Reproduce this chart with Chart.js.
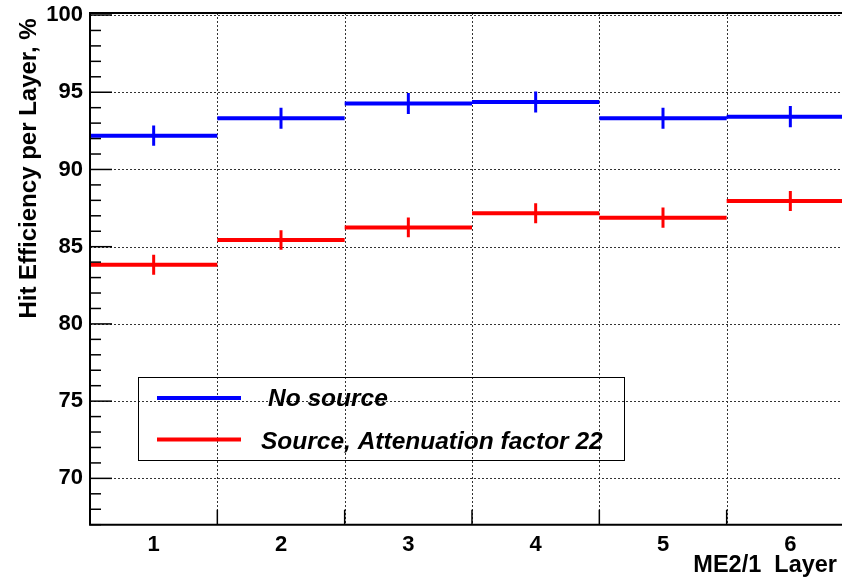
<!DOCTYPE html>
<html>
<head>
<meta charset="utf-8">
<script src="https://cdn.jsdelivr.net/npm/chart.js@4.4.1/dist/chart.umd.min.js"></script>
<style>
  html, body { margin: 0; padding: 0; background: #fff; overflow: hidden; width: 842px; height: 577px; }
  canvas { display: block; }
</style>
</head>
<body>
<canvas id="c" width="854" height="577"></canvas>
<script>
// ---- data ----
const layers = [1, 2, 3, 4, 5, 6];
const noSource = [92.19, 93.32, 94.27, 94.37, 93.32, 93.42];
const noSourceErr = [0.66, 0.68, 0.68, 0.68, 0.68, 0.69];
const withSource = [83.83, 85.43, 86.25, 87.16, 86.88, 87.96];
const withSourceErr = [0.64, 0.63, 0.64, 0.65, 0.65, 0.65];
const yTickValues = [70, 75, 80, 85, 90, 95, 100];
const seriesNames = ['No source', 'Source, Attenuation factor 22'];
const xTitle = 'ME2/1  Layer';
const yTitle = 'Hit Efficiency per Layer, %';

const FONT = "'Liberation Sans', Arial, Helvetica, sans-serif";
const BLUE = '#0000ff';
const RED = '#ff0000';

function hSegments(vals) {
  const out = [];
  layers.forEach((l, i) => {
    out.push({ x: l - 0.5, y: vals[i] }, { x: l + 0.5, y: vals[i] }, { x: l + 0.5, y: null });
  });
  return out;
}
function vBars(vals, errs) {
  const out = [];
  layers.forEach((l, i) => {
    out.push({ x: l, y: vals[i] - errs[i] }, { x: l, y: vals[i] + errs[i] }, { x: l, y: null });
  });
  return out;
}

const binEdges = layers.slice(0, -1).map(l => l + 0.5);

const rootStyle = {
  id: 'rootStyle',
  beforeDatasetsDraw(chart) {
    const ctx = chart.ctx, a = chart.chartArea;
    const xs = chart.scales.x, ys = chart.scales.y;
    ctx.save();
    ctx.strokeStyle = '#333';
    ctx.lineWidth = 1;
    ctx.setLineDash([2, 2]);
    yTickValues.forEach(v => {
      const y = Math.round(ys.getPixelForValue(v)) + 0.5;
      ctx.beginPath(); ctx.moveTo(a.left, y); ctx.lineTo(a.right, y); ctx.stroke();
    });
    binEdges.forEach(v => {
      const x = Math.round(xs.getPixelForValue(v)) + 0.5;
      ctx.beginPath(); ctx.moveTo(x, a.top); ctx.lineTo(x, a.bottom); ctx.stroke();
    });
    ctx.restore();
  },
  afterDatasetsDraw(chart) {
    const ctx = chart.ctx, a = chart.chartArea;
    const xs = chart.scales.x, ys = chart.scales.y;
    ctx.save();
    ctx.setLineDash([]);
    ctx.strokeStyle = '#000';
    // frame
    ctx.lineWidth = 2;
    ctx.beginPath();
    ctx.moveTo(a.right, a.top); ctx.lineTo(a.left, a.top);
    ctx.lineTo(a.left, a.bottom); ctx.lineTo(a.right, a.bottom);
    ctx.stroke();
    // y ticks (major + minor), inside the frame
    ctx.lineWidth = 1.5;
    for (let v = Math.ceil(ys.min); v <= Math.floor(ys.max); v++) {
      const y = ys.getPixelForValue(v);
      const len = (v % 5 === 0) ? 22 : 11;
      ctx.beginPath(); ctx.moveTo(a.left, y); ctx.lineTo(a.left + len, y); ctx.stroke();
    }
    // x ticks at bin edges
    binEdges.forEach(v => {
      const x = xs.getPixelForValue(v);
      ctx.beginPath(); ctx.moveTo(x, a.bottom); ctx.lineTo(x, a.bottom - 15); ctx.stroke();
    });
    // titles
    ctx.fillStyle = '#000';
    ctx.font = 'bold 23.5px ' + FONT;
    ctx.textAlign = 'right';
    ctx.textBaseline = 'alphabetic';
    ctx.fillText(xTitle, 837, 572);
    ctx.save();
    ctx.translate(36, 168.5);
    ctx.rotate(-Math.PI / 2);
    ctx.textAlign = 'center';
    ctx.font = 'bold 24px ' + FONT;
    ctx.fillText(yTitle, 0, 0);
    ctx.restore();
    // legend box
    ctx.lineWidth = 1;
    ctx.strokeRect(138.5, 377.5, 486, 83);
    const entries = [
      { color: BLUE, y: 398, tx: 268, ty: 406, name: seriesNames[0] },
      { color: RED, y: 439.5, tx: 261, ty: 449, name: seriesNames[1] }
    ];
    entries.forEach(e => {
      ctx.strokeStyle = e.color;
      ctx.lineWidth = 4;
      ctx.beginPath(); ctx.moveTo(157, e.y); ctx.lineTo(241, e.y); ctx.stroke();
      ctx.fillStyle = '#000';
      ctx.textAlign = 'left';
      ctx.font = 'italic bold 24.5px ' + FONT;
      ctx.fillText(e.name, e.tx, e.ty);
    });
    ctx.restore();
  }
};

new Chart(document.getElementById('c'), {
  type: 'line',
  data: {
    datasets: [
      { label: seriesNames[0], data: hSegments(noSource), borderColor: BLUE, borderWidth: 4, pointRadius: 0, spanGaps: false, borderCapStyle: 'butt' },
      { label: seriesNames[0] + ' err', data: vBars(noSource, noSourceErr), borderColor: BLUE, borderWidth: 3, pointRadius: 0, spanGaps: false },
      { label: seriesNames[1], data: hSegments(withSource), borderColor: RED, borderWidth: 4, pointRadius: 0, spanGaps: false, borderCapStyle: 'butt' },
      { label: seriesNames[1] + ' err', data: vBars(withSource, withSourceErr), borderColor: RED, borderWidth: 3, pointRadius: 0, spanGaps: false }
    ]
  },
  options: {
    responsive: false,
    animation: false,
    events: [],
    layout: { padding: { top: 13, right: 0, bottom: 0, left: 0 } },
    plugins: { legend: { display: false }, tooltip: { enabled: false } },
    elements: { line: { tension: 0 } },
    scales: {
      x: {
        type: 'linear', min: 0.5, max: 6.5,
        afterBuildTicks: s => { s.ticks = layers.map(v => ({ value: v })); },
        afterFit: s => { s.height = 52.3; s.paddingLeft = 0; s.paddingRight = 0; },
        grid: { display: false, drawTicks: false },
        border: { display: false },
        ticks: { color: '#000', font: { family: FONT, size: 22, weight: 'bold' }, padding: 7, maxRotation: 0, autoSkip: false }
      },
      y: {
        type: 'linear', min: 67, max: 100.13,
        afterBuildTicks: s => { s.ticks = yTickValues.map(v => ({ value: v })); },
        afterFit: s => { s.width = 90; s.paddingTop = 0; s.paddingBottom = 0; },
        grid: { display: false, drawTicks: false },
        border: { display: false },
        ticks: { color: '#000', font: { family: FONT, size: 22, weight: 'bold' }, padding: 7 }
      }
    }
  },
  plugins: [rootStyle]
});
</script>
</body>
</html>
